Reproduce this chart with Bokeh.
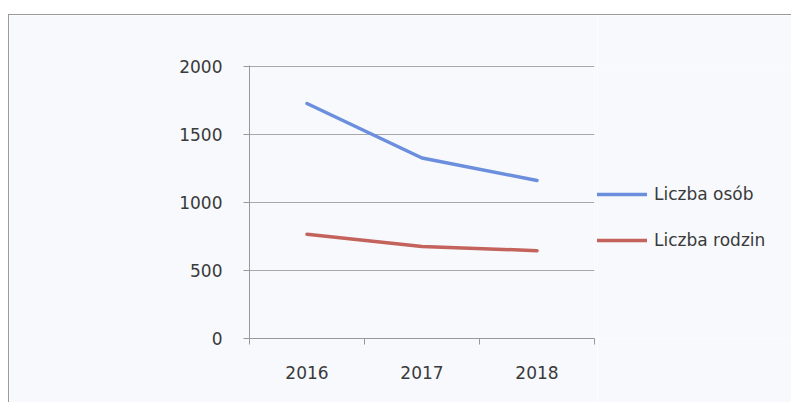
from bokeh.plotting import figure
from bokeh.layouts import row
from bokeh.models import ColumnDataSource, FixedTicker, Legend, LegendItem, Range1d
from bokeh.embed import file_html
from bokeh.resources import INLINE

years = ["2016", "2017", "2018"]
liczba_osob = [1725, 1325, 1160]
liczba_rodzin = [765, 675, 645]
y_ticks = [0, 500, 1000, 1500, 2000]
series_names = ["Liczba osób", "Liczba rodzin"]
series_colors = ["#6b8fdc", "#c4625c"]

xpos = [i + 0.5 for i in range(len(years))]
src = ColumnDataSource(dict(x=xpos, osob=liczba_osob, rodzin=liczba_rodzin))

BG = "#f7f9fd"
BORDER = "1px solid #9a9a9a"
font = "DejaVu Sans"
fsize = "17px"
tcol = "#3a3a3a"

p = figure(width=589, height=388, output_backend="svg", toolbar_location=None,
           x_range=Range1d(0, len(years)), y_range=Range1d(0, 2004),
           min_border_left=240, min_border_right=4, min_border_top=50, min_border_bottom=65,
           background_fill_color=BG, border_fill_color=BG)
p.margin = (14, 0, 0, 8)
p.styles = {"border-top": BORDER, "border-left": BORDER}
p.outline_line_color = None

# x axis: labels at category centres, tick marks at category boundaries
p.xaxis.ticker = FixedTicker(ticks=xpos, minor_ticks=list(range(len(years) + 1)))
p.xaxis.major_label_overrides = {x: y for x, y in zip(xpos, years)}
p.xaxis.major_tick_out = 0
p.xaxis.major_tick_in = 0
p.xaxis.minor_tick_out = 6
p.xaxis.minor_tick_in = 0
p.xaxis.minor_tick_line_color = "#999999"
p.xaxis.axis_line_color = "#999999"
p.xaxis.major_label_standoff = 21
# y axis
p.yaxis.ticker = FixedTicker(ticks=y_ticks)
p.yaxis.major_tick_out = 6
p.yaxis.major_tick_in = 0
p.yaxis.minor_tick_line_color = None
p.yaxis.major_tick_line_color = "#999999"
p.yaxis.axis_line_color = "#999999"
p.yaxis.major_label_standoff = 21
for ax in (p.xaxis, p.yaxis):
    ax.major_label_text_font = font
    ax.major_label_text_font_size = fsize
    ax.major_label_text_color = tcol

p.xgrid.grid_line_color = None
p.ygrid.ticker = FixedTicker(ticks=y_ticks)
p.ygrid.grid_line_color = "#a8a8a8"
p.ygrid.grid_line_width = 1

p.line("x", "osob", source=src, line_color=series_colors[0], line_width=3.5, line_cap="round")
p.line("x", "rodzin", source=src, line_color=series_colors[1], line_width=3.5, line_cap="round")

# legend panel (same series, drawn outside its visible range so only the legend shows)
q = figure(width=194, height=388, output_backend="svg", toolbar_location=None,
           x_range=Range1d(100, 101), y_range=Range1d(0, 2000),
           x_axis_location=None, y_axis_location=None,
           min_border_left=0, min_border_right=0, min_border_top=50, min_border_bottom=65,
           background_fill_color=BG, border_fill_color=BG)
q.margin = (14, 0, 0, 0)
q.styles = {"border-top": BORDER}
q.outline_line_color = None
q.grid.visible = False
items = []
for name, col, field in zip(series_names, series_colors, ["osob", "rodzin"]):
    r = q.line("x", field, source=src, line_color=col, line_width=3.5, line_cap="round")
    items.append(LegendItem(label=name, renderers=[r]))

legend = Legend(items=items, location=(0, 88), orientation="vertical",
                glyph_width=50, glyph_height=20, label_height=20, spacing=26,
                label_standoff=7, padding=0, margin=0,
                background_fill_alpha=0, border_line_color=None,
                label_text_font=font, label_text_font_size=fsize,
                label_text_color=tcol)
q.add_layout(legend, "center")

layout = row(p, q, spacing=0)
open("out.html", "w").write(file_html(layout, INLINE))
